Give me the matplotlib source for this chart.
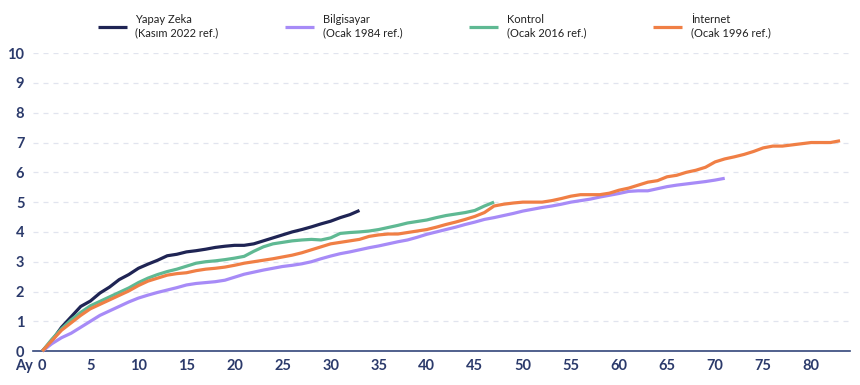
import matplotlib.pyplot as plt
import numpy as np

NAVY = '#1f2454'
TEXT = '#2b3a6b'

yapay_zeka = [0, 0.35, 0.8, 1.15, 1.5, 1.68, 1.95, 2.15, 2.4, 2.57, 2.78, 2.92, 3.05, 3.2, 3.25, 3.33,
              3.37, 3.42, 3.48, 3.52, 3.55, 3.55, 3.6, 3.7, 3.8, 3.9, 4.0, 4.08, 4.17, 4.27, 4.36,
              4.48, 4.58, 4.72]
bilgisayar = [0, 0.25, 0.45, 0.6, 0.8, 1.0, 1.2, 1.35, 1.5, 1.65, 1.78, 1.88, 1.97, 2.05, 2.13, 2.22,
              2.27, 2.3, 2.33, 2.38, 2.48, 2.58, 2.65, 2.72, 2.78, 2.84, 2.88, 2.93, 3.0, 3.1, 3.19,
              3.27, 3.33, 3.4, 3.47, 3.53, 3.6, 3.67, 3.73, 3.82, 3.92, 4.0, 4.08, 4.16, 4.25, 4.33,
              4.42, 4.48, 4.55, 4.62, 4.7, 4.76, 4.82, 4.87, 4.93, 5.0, 5.05, 5.1, 5.17, 5.23, 5.29,
              5.36, 5.38, 5.38, 5.45, 5.52, 5.57, 5.61, 5.65, 5.69, 5.74, 5.8]
kontrol = [0, 0.4, 0.75, 1.05, 1.3, 1.52, 1.67, 1.82, 1.97, 2.12, 2.3, 2.45, 2.57, 2.67, 2.75, 2.85,
           2.95, 3.0, 3.03, 3.07, 3.12, 3.18, 3.35, 3.5, 3.6, 3.65, 3.7, 3.73, 3.75, 3.73, 3.8,
           3.95, 3.98, 4.0, 4.03, 4.08, 4.15, 4.22, 4.3, 4.35, 4.4, 4.48, 4.55, 4.6, 4.65, 4.72,
           4.87, 5.0]
internet = [0, 0.35, 0.7, 0.95, 1.2, 1.42, 1.57, 1.72, 1.87, 2.02, 2.2, 2.35, 2.45, 2.55, 2.6, 2.63,
            2.7, 2.75, 2.78, 2.82, 2.88, 2.95, 3.0, 3.05, 3.1, 3.16, 3.22, 3.3, 3.4, 3.5, 3.6,
            3.65, 3.7, 3.75, 3.85, 3.9, 3.93, 3.93, 3.98, 4.03, 4.08, 4.16, 4.25, 4.33, 4.42, 4.52,
            4.65, 4.87, 4.93, 4.97, 5.0, 5.0, 5.0, 5.05, 5.12, 5.2, 5.25, 5.25, 5.25, 5.3, 5.4,
            5.47, 5.57, 5.67, 5.72, 5.85, 5.9, 6.0, 6.07, 6.17, 6.35, 6.45, 6.52, 6.6, 6.7, 6.82,
            6.88, 6.88, 6.92, 6.96, 7.0, 7.0, 7.0, 7.06]

series = [
    ('Yapay Zeka\n(Kasım 2022 ref.)', yapay_zeka, NAVY),
    ('Bilgisayar\n(Ocak 1984 ref.)', bilgisayar, '#a78bf7'),
    ('Kontrol\n(Ocak 2016 ref.)', kontrol, '#5fb993'),
    ('İnternet\n(Ocak 1996 ref.)', internet, '#f07f45'),
]

plt.rcParams['font.family'] = ['Lato', 'DejaVu Sans']

fig = plt.figure(figsize=(8.6, 3.85), dpi=100)
ax = fig.add_axes([0.038, 0.088, 0.95, 0.774])

for label, values, color in series:
    ax.plot(np.arange(len(values)), values, color=color, lw=2.3, label=label,
            solid_capstyle='butt', solid_joinstyle='round', clip_on=False, zorder=3)

ax.set_xlim(-1, 84)
ax.set_ylim(0, 10)
ax.set_xticks(range(0, 81, 5))
ax.set_yticks(range(0, 11))
ax.grid(axis='y', color='#e1e4ee', lw=0.9, ls=(0, (4, 4)))
ax.set_axisbelow(True)
for s in ['top', 'right', 'left']:
    ax.spines[s].set_visible(False)
ax.spines['bottom'].set_color('#33467a')
ax.spines['bottom'].set_linewidth(1.2)
ax.tick_params(axis='both', length=0, labelsize=10.5, labelcolor=TEXT)
ax.tick_params(axis='y', pad=6)
ax.tick_params(axis='x', pad=6)
for t in ax.get_xticklabels() + ax.get_yticklabels():
    t.set_fontweight('bold')

ax.annotate('Ay', xy=(0, 0), xycoords='data', xytext=(-7, -6), textcoords='offset points',
            ha='right', va='top', fontsize=10.5, color=TEXT, fontweight='bold')

leg = ax.legend(loc='center', bbox_to_anchor=(0.505, 0.932), bbox_transform=fig.transFigure,
                ncol=4, frameon=False, fontsize=8, handlelength=2.6, handletextpad=0.8,
                columnspacing=6.0, labelcolor='#222222')
for line in leg.get_lines():
    line.set_linewidth(2.3)

fig.savefig('out.png', dpi=100)
